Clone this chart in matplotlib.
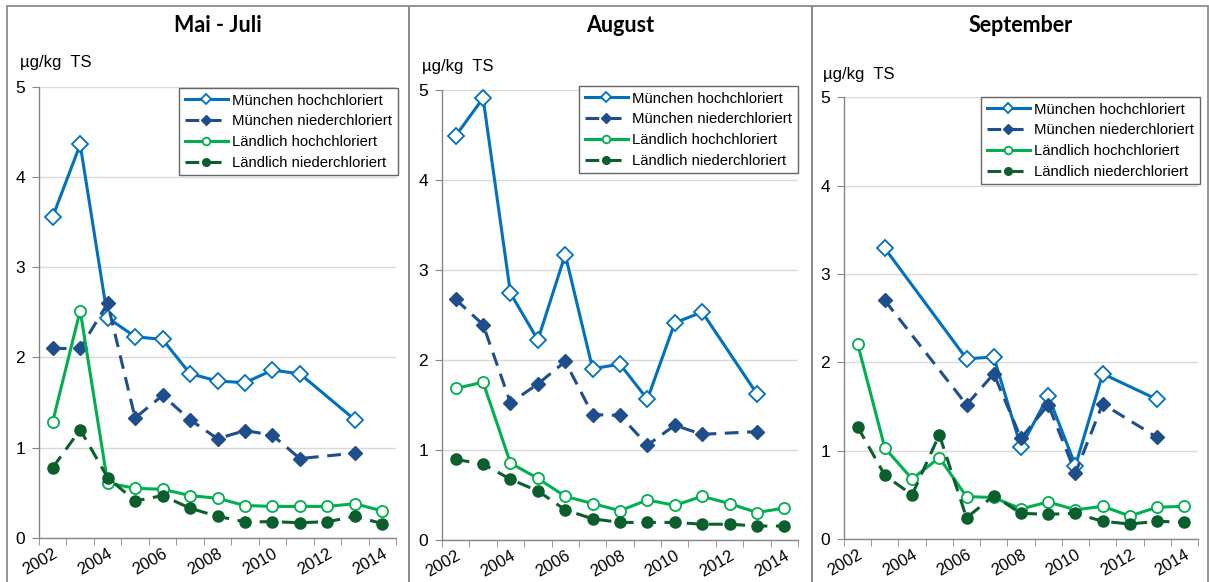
import matplotlib
matplotlib.use('Agg')
import matplotlib.pyplot as plt
from matplotlib.lines import Line2D
from matplotlib.patches import Rectangle

N = None
years = list(range(2002, 2015))
tick_labels = ['2002', '2004', '2006', '2008', '2010', '2012', '2014']
panel_titles = ['Mai - Juli', 'August', 'September']
series_names = ['München hochchloriert', 'München niederchloriert',
                'Ländlich hochchloriert', 'Ländlich niederchloriert']
unit_label = 'µg/kg  TS'

# Mai - Juli
mj_muc_hoch = [3.56, 4.36, 2.44, 2.23, 2.20, 1.82, 1.74, 1.72, 1.86, 1.82, N, 1.31, N]
mj_muc_nied = [2.10, 2.10, 2.60, 1.33, 1.58, 1.31, 1.10, 1.19, 1.14, 0.88, N, 0.94, N]
mj_lnd_hoch = [1.29, 2.52, 0.61, 0.55, 0.54, 0.47, 0.44, 0.36, 0.35, 0.35, 0.35, 0.38, 0.30]
mj_lnd_nied = [0.78, 1.20, 0.67, 0.41, 0.47, 0.33, 0.24, 0.18, 0.18, 0.17, 0.18, 0.24, 0.16]

# August
au_muc_hoch = [4.49, 4.91, 2.74, 2.22, 3.17, 1.90, 1.95, 1.56, 2.41, 2.53, N, 1.62, N]
au_muc_nied = [2.67, 2.39, 1.52, 1.73, 1.98, 1.39, 1.38, 1.05, 1.27, 1.17, N, 1.20, N]
au_lnd_hoch = [1.68, 1.75, 0.85, 0.68, 0.48, 0.40, 0.32, 0.44, 0.38, 0.48, 0.40, 0.30, 0.35]
au_lnd_nied = [0.89, 0.84, 0.67, 0.54, 0.33, 0.23, 0.19, 0.19, 0.19, 0.17, 0.17, 0.15, 0.15]

# September
se_muc_hoch = [N, 3.29, N, N, 2.04, 2.06, 1.04, 1.62, 0.83, 1.87, N, 1.58, N]
se_muc_nied = [N, 2.70, N, N, 1.52, 1.87, 1.14, 1.52, 0.75, 1.53, N, 1.15, N]
se_lnd_hoch = [2.21, 1.03, 0.68, 0.92, 0.48, 0.47, 0.34, 0.42, 0.33, 0.37, 0.26, 0.36, 0.37]
se_lnd_nied = [1.27, 0.72, 0.50, 1.18, 0.24, 0.49, 0.29, 0.28, 0.29, 0.20, 0.17, 0.20, 0.19]

panels_data = [
    [mj_muc_hoch, mj_muc_nied, mj_lnd_hoch, mj_lnd_nied],
    [au_muc_hoch, au_muc_nied, au_lnd_hoch, au_lnd_nied],
    [se_muc_hoch, se_muc_nied, se_lnd_hoch, se_lnd_nied],
]

C_MH = '#0070C0'
C_MN = '#1F4E8C'
C_LH = '#00B050'
C_LN = '#0A5F2C'
styles = [
    dict(color=C_MH, ls='-', marker='D', mfc='white', mec=C_MH, ms=8.0, mew=1.3),
    dict(color=C_MN, ls=(0, (4.5, 2.8)), marker='D', mfc=C_MN, mec=C_MN, ms=7.5, mew=1.0),
    dict(color=C_LH, ls='-', marker='o', mfc='white', mec=C_LH, ms=8, mew=1.3),
    dict(color=C_LN, ls=(0, (4.5, 2.8)), marker='o', mfc=C_LN, mec=C_LN, ms=8, mew=1.0),
]

W, H = 1209, 582
fig = plt.figure(figsize=(W / 100, H / 100), dpi=100)
plt.rcParams['font.family'] = ['Liberation Sans', 'DejaVu Sans']

# panel frames
frame_col = '#8C8C8C'
for (x0, x1) in [(7, 409), (409, 812), (812, 1208)]:
    fig.patches.append(Rectangle((x0 / W, -0.05), (x1 - x0) / W, (H - 6) / H + 0.05,
                                 transform=fig.transFigure, fill=False,
                                 edgecolor=frame_col, lw=1.3, zorder=0))

# axes pixel boxes: left, right, top(y=5), bottom(y=0)
boxes = [(39, 396, 86.7, 538), (442, 798, 90, 539.5), (844, 1198, 97.3, 539)]
legend_tr = [(398, 88), (798, 86), (1200, 97)]
unit_pos = [(20, 62), (422, 67), (823, 75)]

grid_col = '#D9D9D9'
axis_col = '#868686'

for p, (L, R, T, B) in enumerate(boxes):
    ax = fig.add_axes([L / W, 1 - B / H, (R - L) / W, (B - T) / H])
    ax.set_xlim(-0.5, len(years) - 0.5)
    ax.set_ylim(0, 5)
    for s in ['top', 'right']:
        ax.spines[s].set_visible(False)
    for s in ['left', 'bottom']:
        ax.spines[s].set_color(axis_col)
        ax.spines[s].set_linewidth(1.0)
    ax.set_yticks([0, 1, 2, 3, 4, 5])
    ax.yaxis.grid(True, color=grid_col, lw=1.0)
    ax.set_axisbelow(True)
    ax.tick_params(axis='y', length=5, color=axis_col, labelsize=12.5, pad=5)
    # category ticks
    ax.set_xticks([i - 0.5 for i in range(len(years) + 1)], minor=True)
    major_pos = [years.index(int(t)) for t in tick_labels]
    ax.set_xticks(major_pos)
    ax.set_xticklabels(tick_labels, rotation=30, ha='right', va='top',
                       rotation_mode='anchor', fontsize=12)
    ax.tick_params(axis='x', which='major', length=0, pad=6)
    ax.tick_params(axis='x', which='minor', length=5, color=axis_col)

    for vals, st in zip(panels_data[p], styles):
        xs = [i for i, v in enumerate(vals) if v is not None]
        ys = [v for v in vals if v is not None]
        ax.plot(xs, ys, lw=2.2, clip_on=False, **st)

    # legend
    handles = []
    for name, st in zip(series_names, styles):
        st2 = dict(st)
        st2['ms'] = 5.5
        handles.append(Line2D([], [], lw=2.2, label=name, **st2))
    lx, ly = legend_tr[p]
    leg = fig.legend(handles=handles, loc='upper right',
                     bbox_to_anchor=(lx / W, 1 - ly / H), bbox_transform=fig.transFigure,
                     fontsize=10.7, frameon=True, fancybox=False, shadow=False,
                     borderpad=0.38, labelspacing=0.45, handlelength=2.9,
                     handletextpad=0.3, borderaxespad=0)
    leg.get_frame().set_edgecolor('#404040')
    leg.get_frame().set_linewidth(1.0)

    fig.text(((L + R) / 2) / W, 1 - 26 / H, panel_titles[p], ha='center', va='center',
             fontsize=15.5, fontweight='bold', family=['Lato', 'DejaVu Sans'])
    ux, uy = unit_pos[p]
    fig.text(ux / W, 1 - uy / H, unit_label, ha='left', va='center', fontsize=12)

fig.savefig('out.png', dpi=100)
